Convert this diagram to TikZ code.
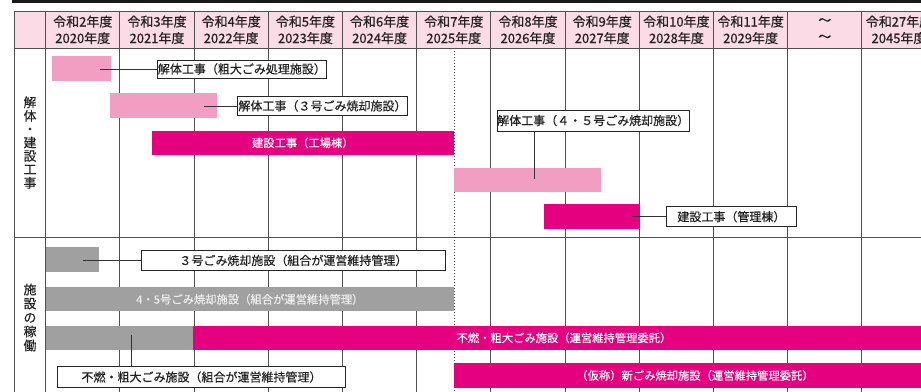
\documentclass[tikz,border=0pt]{standalone}
\usepackage{fontspec}
\setmainfont{Noto Sans CJK JP}[FakeBold=0.4]
\definecolor{hdrpink}{HTML}{FADBE6}
\definecolor{lpink}{HTML}{F19EC2}
\definecolor{mag}{HTML}{E4007F}
\definecolor{barg}{HTML}{A0A0A0}
\definecolor{gridc}{HTML}{505050}
\definecolor{txt}{HTML}{222222}
\begin{document}
\begin{tikzpicture}[x=1pt,y=-1pt,
  gridline/.style={draw=gridc, line width=0.9pt},
  bar/.style={inner sep=0pt, outer sep=0pt, anchor=north west, draw=none},
  lbar/.style={bar, fill=lpink},
  mbar/.style={bar, fill=mag, text=white, font=\fontsize{11.3}{12}\selectfont},
  gbar/.style={bar, fill=barg, text=white!93!black, font=\fontsize{11.3}{12}\selectfont},
  lbl/.style={draw=black!85, fill=white, line width=0.8pt, inner sep=0pt, outer sep=0pt,
              text=txt, font=\fontsize{12}{12}\selectfont},
  hdr/.style={align=center, text=txt, font=\fontsize{13}{16.5}\selectfont},
  vlbl/.style={align=center, text=txt, font=\fontsize{12.8}{13.4}\selectfont},
  conn/.style={draw=black!80, line width=0.8pt}]
\useasboundingbox (0,0) rectangle (921,391);

% top rule
\draw[black!90, line width=2.4pt] (12,1.3) -- (930,1.3);

% header band
\fill[hdrpink] (14,11) rectangle (940,48.3);
\draw[gridline] (14,11) -- (940,11);
\draw[gridline] (14,48.3) -- (940,48.3);
\draw[gridline] (14,237) -- (940,237);
\draw[gridline] (14,11) -- (14,400);
\foreach \k in {0,...,12} {
  \draw[gridline] (45.7+74.2*\k,11) -- (45.7+74.2*\k,400);
}
\draw[gridc, line width=0.9pt, dash pattern=on 1.1pt off 1.9pt] (454,48.3) -- (454,400);

% header texts
\foreach \a/\b [count=\i from 0] in {令和2年度/2020年度, 令和3年度/2021年度, 令和4年度/2022年度,
  令和5年度/2023年度, 令和6年度/2024年度, 令和7年度/2025年度, 令和8年度/2026年度,
  令和9年度/2027年度, 令和10年度/2028年度, 令和11年度/2029年度, ～/～, 令和27年度/2045年度} {
  \node[hdr] (h\i) at (45.7+74.2*\i+37.1,29.8) {\a\\\b};
}

% section labels
\node[vlbl] (s1) at (30,142.5) {解\\体\\・\\建\\設\\工\\事};
\node[vlbl, font=\fontsize{12.8}{14}\selectfont] (s2) at (30,317.5) {施\\設\\の\\稼\\働};

% section 1 bars
\node[lbar, minimum width=58.7pt, minimum height=25pt] (b1) at (52.3,55.7) {};
\node[lbar, minimum width=106.7pt, minimum height=25.3pt] (b2) at (110,92.7) {};
\node[mbar, minimum width=302.3pt, minimum height=24.3pt] (b3) at (151.7,130.7) {建設工事（工場棟）};
\node[lbar, minimum width=147pt, minimum height=24pt] (b4) at (454,167.7) {};
\node[mbar, minimum width=95pt, minimum height=25pt] (b5) at (544.3,204.3) {};

% section 2 bars
\node[gbar, minimum width=53.6pt, minimum height=25pt] (g1) at (45.7,247.3) {};
\node[gbar, minimum width=408.3pt, minimum height=24pt] (g2) at (45.7,287.3) {4・5号ごみ焼却施設（組合が運営維持管理）};
\node[gbar, minimum width=147.3pt, minimum height=24.3pt] (g3) at (45.7,325.7) {};
\node[mbar, minimum width=742pt, minimum height=24.3pt] (m3) at (193,325.7) {不燃・粗大ごみ施設（運営維持管理委託）};
\node[mbar, minimum width=482pt, minimum height=24.4pt] (m4) at (454,363.3) {（仮称）新ごみ焼却施設（運営維持管理委託）};

% labels
\node[lbl, minimum width=168.3pt, minimum height=18pt] (l1) at (241.9,69) {解体工事（粗大ごみ処理施設）};
\node[lbl, minimum width=169.6pt, minimum height=18.3pt] (l2) at (322.5,105.9) {解体工事（３号ごみ焼却施設）};
\node[lbl, minimum width=185pt, minimum height=21pt] (l3) at (593.2,120.5) {解体工事（４・５号ごみ焼却施設）};
\node[lbl, minimum width=130.7pt, minimum height=20pt] (l4) at (731.4,216.7) {建設工事（管理棟）};
\node[lbl, minimum width=304.7pt, minimum height=19.3pt] (l5) at (293.4,260.4) {３号ごみ焼却施設（組合が運営維持管理）};
\node[lbl, minimum width=288.4pt, minimum height=20.6pt] (l6) at (201.5,377) {不燃・粗大ごみ施設（組合が運営維持管理）};

% connectors
\coordinate (c1) at (100,69);
\coordinate (c2) at (204.3,105.9);
\coordinate (c3) at (534.3,179);
\coordinate (c4) at (631.7,216.7);
\coordinate (c5) at (83.3,260.4);
\coordinate (c6) at (131.7,335);
\draw[conn] (c1) -- (l1.west);
\draw[conn] (c2) -- (l2.west);
\draw[conn] (c3) -- (c3 |- l3.south);
\draw[conn] (c4) -- (l4.west);
\draw[conn] (c5) -- (l5.west);
\draw[conn] (c6) -- (c6 |- l6.north);
\end{tikzpicture}
\end{document}
